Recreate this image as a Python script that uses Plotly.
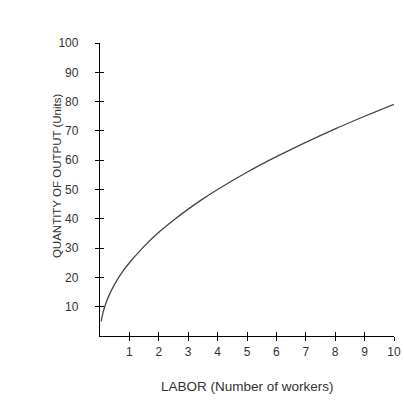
import plotly.graph_objects as go

# points
labor = [0.04, 0.1, 0.2, 0.3, 0.5, 0.75, 1, 1.5, 2, 2.5, 3, 3.5, 4, 5, 6, 7, 8, 9, 10]
output = [5, 7.9, 11.2, 13.7, 17.7, 21.7, 25, 30.6, 35.4, 39.5, 43.3, 46.8, 50,
          55.9, 61.2, 66.1, 70.7, 75, 79.1]

x_ticks = [1, 2, 3, 4, 5, 6, 7, 8, 9, 10]
y_ticks = [10, 20, 30, 40, 50, 60, 70, 80, 90, 100]

FONT = "Liberation Sans, Arial, sans-serif"

fig = go.Figure()
fig.add_trace(go.Scatter(
    x=labor, y=output, mode="lines",
    line=dict(color="#444444", width=1.3, shape="spline"),
    hoverinfo="skip", showlegend=False,
))
# empty trace so the overlay axes (inner half of the ticks) get drawn
fig.add_trace(go.Scatter(x=[None], y=[None], xaxis="x2", yaxis="y2",
                         showlegend=False, hoverinfo="skip"))

axis_common = dict(showgrid=False, zeroline=False, showline=True,
                   linecolor="black", linewidth=1.3, automargin=False,
                   tickcolor="black", tickwidth=1, ticklen=4)

fig.update_layout(
    width=404, height=403,
    margin=dict(l=100, r=10, t=43, b=67),
    paper_bgcolor="white", plot_bgcolor="white",
    font=dict(family=FONT, size=12, color="#333333"),
    xaxis=dict(range=[0, 10], tickvals=x_ticks, ticks="outside",
               ticklabelstandoff=0, **axis_common),
    yaxis=dict(range=[0, 100], tickvals=y_ticks, ticks="outside",
               ticklabelstandoff=14, **axis_common),
    xaxis2=dict(overlaying="x", matches="x", range=[0, 10], tickvals=x_ticks,
                ticks="inside", showticklabels=False, **axis_common),
    yaxis2=dict(overlaying="y", matches="y", range=[0, 100], tickvals=y_ticks,
                ticks="inside", showticklabels=False, **axis_common),
    annotations=[
        dict(text="LABOR (Number of workers)", xref="paper", yref="paper",
             x=0.5, y=-0.174, yanchor="middle", showarrow=False,
             font=dict(size=13.5, color="#333333")),
        dict(text="QUANTITY OF OUTPUT (Units)", xref="paper", yref="paper",
             x=-0.146, y=0.546, xanchor="center", yanchor="middle",
             textangle=-90, showarrow=False,
             font=dict(size=11.5, color="#333333")),
    ],
)

# drop the default 8px page margin so the figure fills the window exactly
fig.write_html("out.html", config={"displayModeBar": False},
               post_script="document.body.style.margin = '0';")
